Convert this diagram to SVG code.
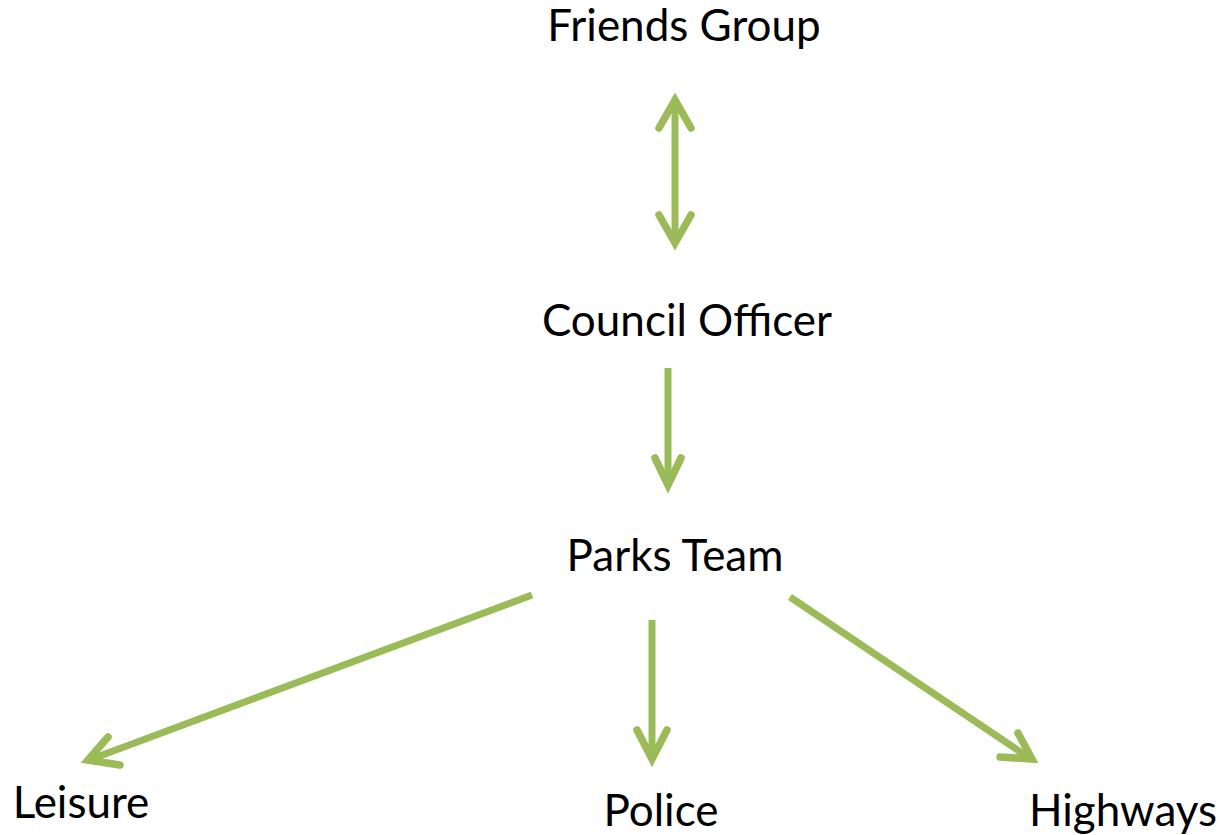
<svg xmlns="http://www.w3.org/2000/svg" width="1220" height="835" viewBox="0 0 1220 835">
<style>
.t{font-family:Lato,"Open Sans","Liberation Sans",sans-serif;font-size:44px;fill:#000;text-anchor:middle}
.c{fill:none;stroke:#9BBB59;stroke-width:7.5;stroke-linecap:round;stroke-linejoin:miter}
.s{fill:none;stroke:#9BBB59;stroke-width:7;stroke-linecap:butt}
</style>
<rect width="1220" height="835" fill="#fff"/>
<g id="friends"><text class="t" x="684" y="41">Friends Group</text></g>
<g id="council"><text class="t" x="687" y="336">Council Officer</text></g>
<g id="parks"><text class="t" x="675" y="571">Parks Team</text></g>
<g id="leisure"><text class="t" x="81" y="818">Leisure</text></g>
<g id="police"><text class="t" x="661" y="826">Police</text></g>
<g id="highways"><text class="t" x="1123" y="826">Highways</text></g>
<g id="connectors">
<line class="s" x1="675" y1="102" x2="675" y2="241"/>
<polyline class="c" points="659,128 675,100 691,128"/>
<polyline class="c" points="659,215 675,243 691,215"/>
<line class="s" x1="668" y1="368" x2="668" y2="484"/>
<polyline class="c" points="655,458 668,485 681,458"/>
<line class="s" x1="652" y1="620" x2="652" y2="758"/>
<polyline class="c" points="637,730 652,759 667,730"/>
<line class="s" x1="532" y1="595" x2="89" y2="760"/>
<polyline class="c" points="108,737 88,760 120,765"/>
<line class="s" x1="790" y1="597" x2="1031" y2="759"/>
<polyline class="c" points="1018,733 1032,759 1000,757"/>
</g>
</svg>
